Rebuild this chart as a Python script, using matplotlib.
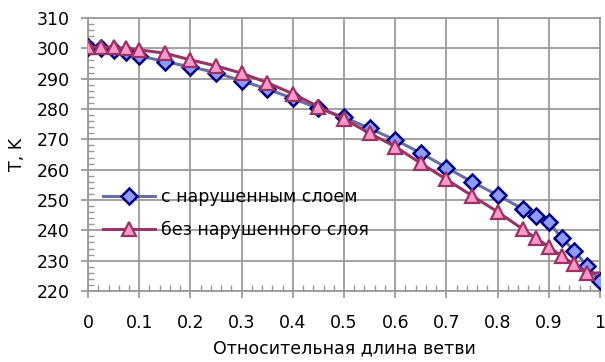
import matplotlib
matplotlib.use("Agg")
import matplotlib.pyplot as plt
from matplotlib.ticker import MultipleLocator

x = [0, 0.025, 0.05, 0.075, 0.1, 0.15, 0.2, 0.25, 0.3, 0.35, 0.4, 0.45, 0.5,
     0.55, 0.6, 0.65, 0.7, 0.75, 0.8, 0.85, 0.875, 0.9, 0.925, 0.95, 0.975, 1.0]
t_damaged = [300.3, 300.1, 299.6, 298.9, 297.6, 295.6, 293.9, 292.0, 289.3, 286.6,
             283.5, 280.2, 277.3, 273.6, 269.8, 265.5, 260.7, 256.0, 251.6, 247.0,
             244.8, 242.6, 237.6, 233.2, 228.2, 223.2]
t_intact = [300.3, 300.5, 300.3, 300.0, 299.5, 298.4, 296.2, 294.2, 291.8, 288.7,
            285.0, 280.8, 276.7, 272.0, 267.6, 262.1, 256.8, 251.4, 246.1, 240.3,
            237.4, 234.6, 231.5, 228.8, 225.8, 226.0]
xticklabels = ['0', '0.1', '0.2', '0.3', '0.4', '0.5', '0.6', '0.7', '0.8', '0.9', '1']
label_damaged = "с нарушенным слоем"
label_intact = "без нарушенного слоя"
xlabel = "Относительная длина ветви"
ylabel = "T, K"

plt.rcParams['font.family'] = ['DejaVu Sans']
fs = 12.5
fig = plt.figure(figsize=(6.05, 3.62), dpi=100)
ax = fig.add_axes([0.1455, 0.1961, 0.8462, 0.7542])

ax.plot(x, t_damaged, color='#6A6FA3', lw=2.2, marker='D', ms=8,
        mfc='#8F9CFF', mec='#000080', mew=1.8, label=label_damaged, zorder=3)
ax.plot(x, t_intact, color='#993366', lw=2.2, marker='^', ms=9.5,
        mfc='#FF99CC', mec='#993366', mew=1.6, label=label_intact, zorder=4,
        markevery=list(range(len(x) - 1)))

ax.set_xlim(0, 1)
ax.set_ylim(220, 310)
ax.set_xticks([i / 10 for i in range(11)])
ax.set_xticklabels(xticklabels)
ax.xaxis.set_minor_locator(MultipleLocator(0.02))
ax.yaxis.set_major_locator(MultipleLocator(10))
ax.yaxis.set_minor_locator(MultipleLocator(2))

gc = '#9A9A9A'
ax.grid(True, which='major', color=gc, lw=1.3, zorder=1)
for s in ax.spines.values():
    s.set_color(gc)
    s.set_linewidth(1.3)
ax.tick_params(which='major', direction='out', length=5, width=1.3, color=gc,
               labelsize=fs, labelcolor='black')
ax.tick_params(axis='y', which='major', pad=8)
ax.tick_params(axis='x', which='major', pad=11.5)
ax.tick_params(which='minor', direction='in', length=4, width=1, color=gc)

ax.set_xlabel(xlabel, fontsize=fs, labelpad=5)
ax.set_ylabel(ylabel, fontsize=fs, labelpad=8)

leg = ax.legend(loc='center left', bbox_to_anchor=(0.029, 0.284), frameon=False,
                fontsize=fs, handlelength=3.0, handletextpad=0.35,
                labelspacing=0.85, borderaxespad=0, borderpad=0)

fig.savefig('out.png', dpi=100)
